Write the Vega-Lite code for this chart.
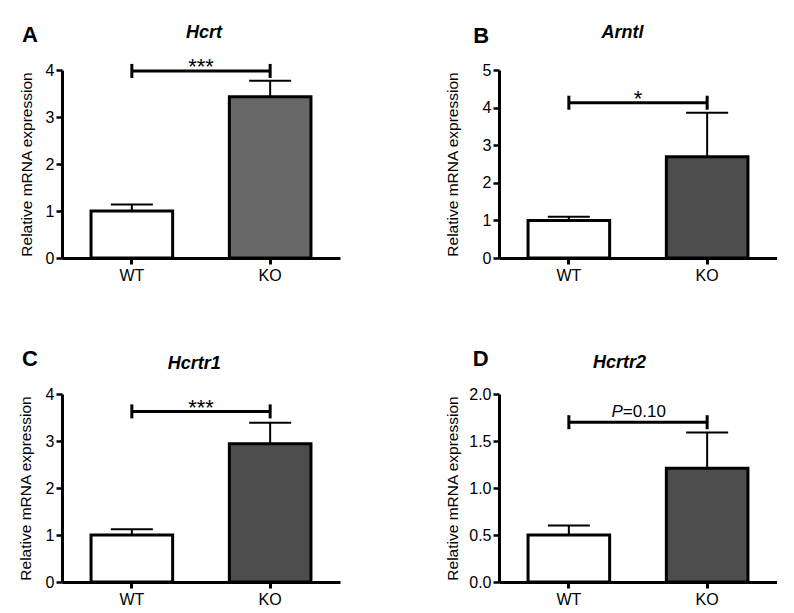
{
  "$schema": "https://vega.github.io/schema/vega-lite/v6.json",
  "background": "white",
  "padding": {"left": 18, "top": 23, "right": 0, "bottom": 0},
  "datasets": {
    "bars": [
      {"panel": "A", "group": "WT", "mean": 1.0, "upper": 1.14},
      {"panel": "A", "group": "KO", "mean": 3.43, "upper": 3.77},
      {"panel": "B", "group": "WT", "mean": 1.0, "upper": 1.10},
      {"panel": "B", "group": "KO", "mean": 2.69, "upper": 3.86},
      {"panel": "C", "group": "WT", "mean": 1.0, "upper": 1.12},
      {"panel": "C", "group": "KO", "mean": 2.94, "upper": 3.39},
      {"panel": "D", "group": "WT", "mean": 0.5, "upper": 0.60},
      {"panel": "D", "group": "KO", "mean": 1.21, "upper": 1.59}
    ],
    "sig": [
      {"panel": "A", "from": "WT", "to": "KO", "y": 3.98, "label": "***", "prefix": ""},
      {"panel": "B", "from": "WT", "to": "KO", "y": 4.13, "label": "*", "prefix": ""},
      {"panel": "C", "from": "WT", "to": "KO", "y": 3.63, "label": "***", "prefix": ""},
      {"panel": "D", "from": "WT", "to": "KO", "y": 1.70, "label": "=0.10", "prefix": "P"}
    ]
  },
  "columns": 2,
  "spacing": {"row": 64, "column": 105},
  "resolve": {"scale": {"x": "independent", "y": "independent", "fill": "independent"}},
  "concat": [
    {
      "width": 278, "height": 188,
      "title": {"text": "A", "anchor": "start", "frame": "group", "dx": -40, "dy": 41.3, "fontSize": 22, "fontWeight": "bold", "color": "black", "offset": 0, "baseline": "alphabetic"},
      "resolve": {"axis": {"x": "independent", "y": "independent"}},
      "layer": [
        {
          "data": {"name": "bars"}, "transform": [{"filter": "datum.panel === 'A'"}],
          "mark": {"type": "bar", "stroke": "black", "strokeWidth": 3},
          "encoding": {
            "x": {"field": "group", "type": "nominal", "scale": {"domain": ["WT", "KO"], "paddingInner": 0.41, "paddingOuter": 0.21},
                  "axis": {"orient": "bottom", "title": null, "labelAngle": 0, "tickSize": 6, "tickWidth": 3, "labelPadding": 3}},
            "y": {"field": "mean", "type": "quantitative", "scale": {"domain": [0, 4]},
                  "axis": {"values": [0, 1, 2, 3, 4], "format": "d", "title": "Relative mRNA expression", "titlePadding": 11, "tickSize": 6, "tickWidth": 2.5, "labelPadding": 2}},
            "fill": {"field": "group", "type": "nominal", "scale": {"domain": ["WT", "KO"], "range": ["#ffffff", "#686868"]}, "legend": null}
          }
        },
        {
          "data": {"name": "bars"}, "transform": [{"filter": "datum.panel === 'A'"}],
          "mark": {"type": "rule", "strokeWidth": 2, "color": "black"},
          "encoding": {
            "x": {"field": "group", "type": "nominal",
                  "axis": {"orient": "top", "title": "Hcrt", "labels": false, "ticks": false, "domain": false, "titleFontSize": 18, "titleFontWeight": "bold", "titleFontStyle": "italic", "titleX": 141.5, "titleY": -33, "titleAlign": "center", "titleBaseline": "alphabetic"}},
            "y": {"field": "mean", "type": "quantitative", "axis": null},
            "y2": {"field": "upper"}
          }
        },
        {
          "data": {"name": "bars"}, "transform": [{"filter": "datum.panel === 'A'"}],
          "mark": {"type": "tick", "size": 42, "thickness": 2, "color": "black", "opacity": 1},
          "encoding": {
            "x": {"field": "group", "type": "nominal", "axis": null},
            "y": {"field": "upper", "type": "quantitative", "axis": null}
          }
        },
        {
          "data": {"name": "sig"}, "transform": [{"filter": "datum.panel === 'A'"}],
          "mark": {"type": "rule", "strokeWidth": 3, "color": "black"},
          "encoding": {
            "x": {"field": "from", "type": "nominal", "axis": null},
            "x2": {"field": "to"},
            "y": {"field": "y", "type": "quantitative", "axis": null}
          }
        },
        {
          "data": {"name": "sig"}, "transform": [{"filter": "datum.panel === 'A'"}],
          "mark": {"type": "tick", "orient": "vertical", "size": 14, "thickness": 3, "color": "black", "opacity": 1},
          "encoding": {
            "x": {"field": "from", "type": "nominal", "axis": null},
            "y": {"field": "y", "type": "quantitative", "axis": null}
          }
        },
        {
          "data": {"name": "sig"}, "transform": [{"filter": "datum.panel === 'A'"}],
          "mark": {"type": "tick", "orient": "vertical", "size": 14, "thickness": 3, "color": "black", "opacity": 1},
          "encoding": {
            "x": {"field": "to", "type": "nominal", "axis": null},
            "y": {"field": "y", "type": "quantitative", "axis": null}
          }
        },
        {
          "data": {"name": "sig"}, "transform": [{"filter": "datum.panel === 'A'"}],
          "mark": {"type": "text", "fontSize": 22, "align": "center", "baseline": "alphabetic", "dx": 69.2, "dy": 3.5, "color": "black"},
          "encoding": {
            "x": {"field": "from", "type": "nominal", "axis": null},
            "y": {"field": "y", "type": "quantitative", "axis": null},
            "text": {"field": "label"}
          }
        }
      ]
    },
    {
      "width": 278, "height": 188,
      "title": {"text": "B", "anchor": "start", "frame": "group", "dx": -25.7, "dy": 42, "fontSize": 22, "fontWeight": "bold", "color": "black", "offset": 0, "baseline": "alphabetic"},
      "resolve": {"axis": {"x": "independent", "y": "independent"}},
      "layer": [
        {
          "data": {"name": "bars"}, "transform": [{"filter": "datum.panel === 'B'"}],
          "mark": {"type": "bar", "stroke": "black", "strokeWidth": 3},
          "encoding": {
            "x": {"field": "group", "type": "nominal", "scale": {"domain": ["WT", "KO"], "paddingInner": 0.41, "paddingOuter": 0.21},
                  "axis": {"orient": "bottom", "title": null, "labelAngle": 0, "tickSize": 6, "tickWidth": 3, "labelPadding": 3}},
            "y": {"field": "mean", "type": "quantitative", "scale": {"domain": [0, 5]},
                  "axis": {"values": [0, 1, 2, 3, 4, 5], "format": "d", "title": "Relative mRNA expression", "titlePadding": 22, "tickSize": 6, "tickWidth": 2.5, "labelPadding": 2}},
            "fill": {"field": "group", "type": "nominal", "scale": {"domain": ["WT", "KO"], "range": ["#ffffff", "#4d4d4d"]}, "legend": null}
          }
        },
        {
          "data": {"name": "bars"}, "transform": [{"filter": "datum.panel === 'B'"}],
          "mark": {"type": "rule", "strokeWidth": 2, "color": "black"},
          "encoding": {
            "x": {"field": "group", "type": "nominal",
                  "axis": {"orient": "top", "title": "Arntl", "labels": false, "ticks": false, "domain": false, "titleFontSize": 18, "titleFontWeight": "bold", "titleFontStyle": "italic", "titleX": 123, "titleY": -33, "titleAlign": "center", "titleBaseline": "alphabetic"}},
            "y": {"field": "mean", "type": "quantitative", "axis": null},
            "y2": {"field": "upper"}
          }
        },
        {
          "data": {"name": "bars"}, "transform": [{"filter": "datum.panel === 'B'"}],
          "mark": {"type": "tick", "size": 42, "thickness": 2, "color": "black", "opacity": 1},
          "encoding": {
            "x": {"field": "group", "type": "nominal", "axis": null},
            "y": {"field": "upper", "type": "quantitative", "axis": null}
          }
        },
        {
          "data": {"name": "sig"}, "transform": [{"filter": "datum.panel === 'B'"}],
          "mark": {"type": "rule", "strokeWidth": 3, "color": "black"},
          "encoding": {
            "x": {"field": "from", "type": "nominal", "axis": null},
            "x2": {"field": "to"},
            "y": {"field": "y", "type": "quantitative", "axis": null}
          }
        },
        {
          "data": {"name": "sig"}, "transform": [{"filter": "datum.panel === 'B'"}],
          "mark": {"type": "tick", "orient": "vertical", "size": 14, "thickness": 3, "color": "black", "opacity": 1},
          "encoding": {
            "x": {"field": "from", "type": "nominal", "axis": null},
            "y": {"field": "y", "type": "quantitative", "axis": null}
          }
        },
        {
          "data": {"name": "sig"}, "transform": [{"filter": "datum.panel === 'B'"}],
          "mark": {"type": "tick", "orient": "vertical", "size": 14, "thickness": 3, "color": "black", "opacity": 1},
          "encoding": {
            "x": {"field": "to", "type": "nominal", "axis": null},
            "y": {"field": "y", "type": "quantitative", "axis": null}
          }
        },
        {
          "data": {"name": "sig"}, "transform": [{"filter": "datum.panel === 'B'"}],
          "mark": {"type": "text", "fontSize": 22, "align": "center", "baseline": "alphabetic", "dx": 69.2, "dy": 3.5, "color": "black"},
          "encoding": {
            "x": {"field": "from", "type": "nominal", "axis": null},
            "y": {"field": "y", "type": "quantitative", "axis": null},
            "text": {"field": "label"}
          }
        }
      ]
    },
    {
      "width": 278, "height": 188,
      "title": {"text": "C", "anchor": "start", "frame": "group", "dx": -40, "dy": 33.7, "fontSize": 22, "fontWeight": "bold", "color": "black", "offset": 0, "baseline": "alphabetic"},
      "resolve": {"axis": {"x": "independent", "y": "independent"}},
      "layer": [
        {
          "data": {"name": "bars"}, "transform": [{"filter": "datum.panel === 'C'"}],
          "mark": {"type": "bar", "stroke": "black", "strokeWidth": 3},
          "encoding": {
            "x": {"field": "group", "type": "nominal", "scale": {"domain": ["WT", "KO"], "paddingInner": 0.41, "paddingOuter": 0.21},
                  "axis": {"orient": "bottom", "title": null, "labelAngle": 0, "tickSize": 6, "tickWidth": 3, "labelPadding": 3}},
            "y": {"field": "mean", "type": "quantitative", "scale": {"domain": [0, 4]},
                  "axis": {"values": [0, 1, 2, 3, 4], "format": "d", "title": "Relative mRNA expression", "titlePadding": 12, "tickSize": 6, "tickWidth": 2.5, "labelPadding": 2}},
            "fill": {"field": "group", "type": "nominal", "scale": {"domain": ["WT", "KO"], "range": ["#ffffff", "#4d4d4d"]}, "legend": null}
          }
        },
        {
          "data": {"name": "bars"}, "transform": [{"filter": "datum.panel === 'C'"}],
          "mark": {"type": "rule", "strokeWidth": 2, "color": "black"},
          "encoding": {
            "x": {"field": "group", "type": "nominal",
                  "axis": {"orient": "top", "title": "Hcrtr1", "labels": false, "ticks": false, "domain": false, "titleFontSize": 18, "titleFontWeight": "bold", "titleFontStyle": "italic", "titleX": 131.7, "titleY": -26, "titleAlign": "center", "titleBaseline": "alphabetic"}},
            "y": {"field": "mean", "type": "quantitative", "axis": null},
            "y2": {"field": "upper"}
          }
        },
        {
          "data": {"name": "bars"}, "transform": [{"filter": "datum.panel === 'C'"}],
          "mark": {"type": "tick", "size": 42, "thickness": 2, "color": "black", "opacity": 1},
          "encoding": {
            "x": {"field": "group", "type": "nominal", "axis": null},
            "y": {"field": "upper", "type": "quantitative", "axis": null}
          }
        },
        {
          "data": {"name": "sig"}, "transform": [{"filter": "datum.panel === 'C'"}],
          "mark": {"type": "rule", "strokeWidth": 3, "color": "black"},
          "encoding": {
            "x": {"field": "from", "type": "nominal", "axis": null},
            "x2": {"field": "to"},
            "y": {"field": "y", "type": "quantitative", "axis": null}
          }
        },
        {
          "data": {"name": "sig"}, "transform": [{"filter": "datum.panel === 'C'"}],
          "mark": {"type": "tick", "orient": "vertical", "size": 14, "thickness": 3, "color": "black", "opacity": 1},
          "encoding": {
            "x": {"field": "from", "type": "nominal", "axis": null},
            "y": {"field": "y", "type": "quantitative", "axis": null}
          }
        },
        {
          "data": {"name": "sig"}, "transform": [{"filter": "datum.panel === 'C'"}],
          "mark": {"type": "tick", "orient": "vertical", "size": 14, "thickness": 3, "color": "black", "opacity": 1},
          "encoding": {
            "x": {"field": "to", "type": "nominal", "axis": null},
            "y": {"field": "y", "type": "quantitative", "axis": null}
          }
        },
        {
          "data": {"name": "sig"}, "transform": [{"filter": "datum.panel === 'C'"}],
          "mark": {"type": "text", "fontSize": 22, "align": "center", "baseline": "alphabetic", "dx": 69.2, "dy": 3.5, "color": "black"},
          "encoding": {
            "x": {"field": "from", "type": "nominal", "axis": null},
            "y": {"field": "y", "type": "quantitative", "axis": null},
            "text": {"field": "label"}
          }
        }
      ]
    },
    {
      "width": 278, "height": 188,
      "title": {"text": "D", "anchor": "start", "frame": "group", "dx": -26.3, "dy": 34.7, "fontSize": 22, "fontWeight": "bold", "color": "black", "offset": 0, "baseline": "alphabetic"},
      "resolve": {"axis": {"x": "independent", "y": "independent"}},
      "layer": [
        {
          "data": {"name": "bars"}, "transform": [{"filter": "datum.panel === 'D'"}],
          "mark": {"type": "bar", "stroke": "black", "strokeWidth": 3},
          "encoding": {
            "x": {"field": "group", "type": "nominal", "scale": {"domain": ["WT", "KO"], "paddingInner": 0.41, "paddingOuter": 0.21},
                  "axis": {"orient": "bottom", "title": null, "labelAngle": 0, "tickSize": 6, "tickWidth": 3, "labelPadding": 3}},
            "y": {"field": "mean", "type": "quantitative", "scale": {"domain": [0, 2]},
                  "axis": {"values": [0, 0.5, 1, 1.5, 2], "format": ".1f", "title": "Relative mRNA expression", "titlePadding": 8, "tickSize": 6, "tickWidth": 2.5, "labelPadding": 2}},
            "fill": {"field": "group", "type": "nominal", "scale": {"domain": ["WT", "KO"], "range": ["#ffffff", "#4d4d4d"]}, "legend": null}
          }
        },
        {
          "data": {"name": "bars"}, "transform": [{"filter": "datum.panel === 'D'"}],
          "mark": {"type": "rule", "strokeWidth": 2, "color": "black"},
          "encoding": {
            "x": {"field": "group", "type": "nominal",
                  "axis": {"orient": "top", "title": "Hcrtr2", "labels": false, "ticks": false, "domain": false, "titleFontSize": 18, "titleFontWeight": "bold", "titleFontStyle": "italic", "titleX": 120, "titleY": -27, "titleAlign": "center", "titleBaseline": "alphabetic"}},
            "y": {"field": "mean", "type": "quantitative", "axis": null},
            "y2": {"field": "upper"}
          }
        },
        {
          "data": {"name": "bars"}, "transform": [{"filter": "datum.panel === 'D'"}],
          "mark": {"type": "tick", "size": 42, "thickness": 2, "color": "black", "opacity": 1},
          "encoding": {
            "x": {"field": "group", "type": "nominal", "axis": null},
            "y": {"field": "upper", "type": "quantitative", "axis": null}
          }
        },
        {
          "data": {"name": "sig"}, "transform": [{"filter": "datum.panel === 'D'"}],
          "mark": {"type": "rule", "strokeWidth": 3, "color": "black"},
          "encoding": {
            "x": {"field": "from", "type": "nominal", "axis": null},
            "x2": {"field": "to"},
            "y": {"field": "y", "type": "quantitative", "axis": null}
          }
        },
        {
          "data": {"name": "sig"}, "transform": [{"filter": "datum.panel === 'D'"}],
          "mark": {"type": "tick", "orient": "vertical", "size": 14, "thickness": 3, "color": "black", "opacity": 1},
          "encoding": {
            "x": {"field": "from", "type": "nominal", "axis": null},
            "y": {"field": "y", "type": "quantitative", "axis": null}
          }
        },
        {
          "data": {"name": "sig"}, "transform": [{"filter": "datum.panel === 'D'"}],
          "mark": {"type": "tick", "orient": "vertical", "size": 14, "thickness": 3, "color": "black", "opacity": 1},
          "encoding": {
            "x": {"field": "to", "type": "nominal", "axis": null},
            "y": {"field": "y", "type": "quantitative", "axis": null}
          }
        },
        {
          "data": {"name": "sig"}, "transform": [{"filter": "datum.panel === 'D'"}],
          "mark": {"type": "text", "fontSize": 17, "fontStyle": "italic", "align": "right", "baseline": "alphabetic", "dx": 54, "dy": -5, "color": "black"},
          "encoding": {
            "x": {"field": "from", "type": "nominal", "axis": null},
            "y": {"field": "y", "type": "quantitative", "axis": null},
            "text": {"field": "prefix"}
          }
        },
        {
          "data": {"name": "sig"}, "transform": [{"filter": "datum.panel === 'D'"}],
          "mark": {"type": "text", "fontSize": 17, "align": "left", "baseline": "alphabetic", "dx": 54, "dy": -5, "color": "black"},
          "encoding": {
            "x": {"field": "from", "type": "nominal", "axis": null},
            "y": {"field": "y", "type": "quantitative", "axis": null},
            "text": {"field": "label"}
          }
        }
      ]
    }
  ],
  "config": {
    "view": {"stroke": null},
    "font": "Liberation Sans",
    "axis": {
      "domainColor": "black", "domainWidth": 3, "tickColor": "black", "labelColor": "black",
      "labelFont": "Liberation Sans", "labelFontSize": 16, "titleFont": "Liberation Sans",
      "titleColor": "black", "titleFontSize": 15.5, "titleFontWeight": "normal", "grid": false
    },
    "title": {"font": "Liberation Sans"},
    "text": {"font": "Liberation Sans"}
  }
}
